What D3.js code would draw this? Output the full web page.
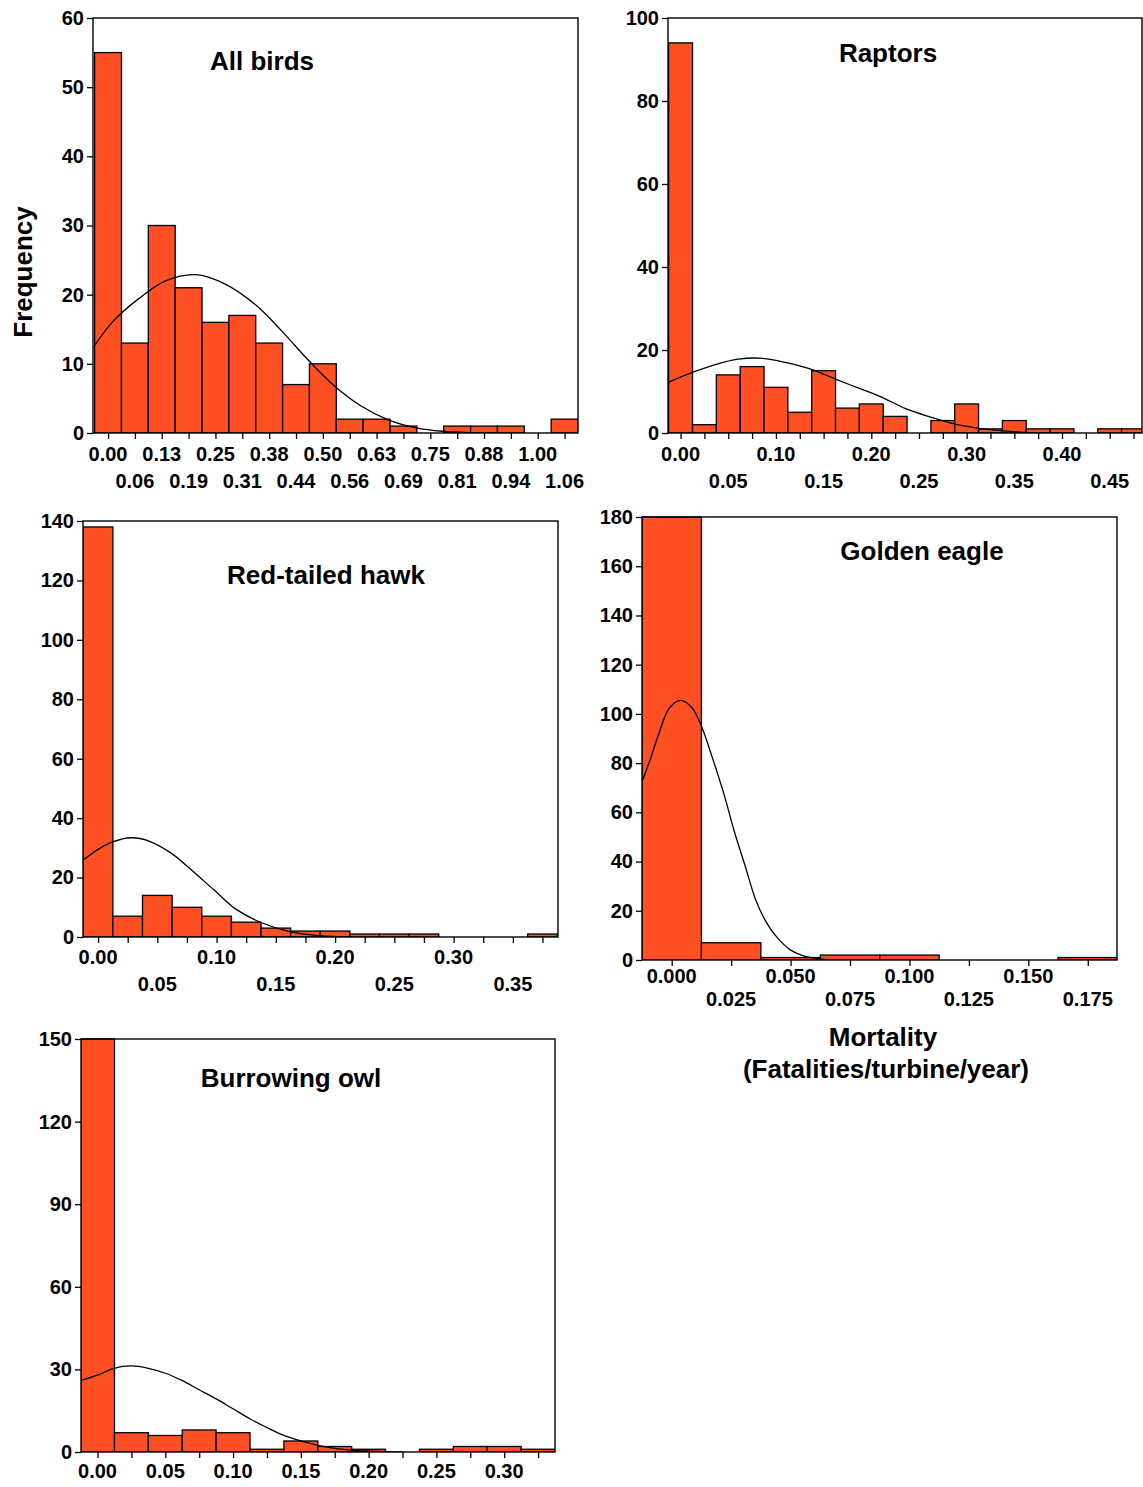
<!DOCTYPE html>
<html>
<head>
<meta charset="utf-8">
<script src="https://cdn.jsdelivr.net/npm/d3@7"></script>
<style>
  body { margin: 0; background: #fff; }
  svg text { font-family: "Liberation Sans", Arial, Helvetica, sans-serif; font-weight: bold; fill: #000; }
</style>
</head>
<body>
<svg id="chart" width="1143" height="1487"></svg>
<script>
// ---------------- DATA ----------------
// All birds
const allBirdsBins = [0, 0.0625, 0.125, 0.1875, 0.25, 0.3125, 0.375, 0.4375, 0.5, 0.5625, 0.625, 0.6875, 0.75, 0.8125, 0.875, 0.9375, 1.0, 1.0625];
const allBirdsBinWidth = 0.0625;
const allBirdsCounts = [55, 13, 30, 21, 16, 17, 13, 7, 10, 2, 2, 1, 0, 1, 1, 1, 0, 2];
const allBirdsXLabels = ["0.00", "0.06", "0.13", "0.19", "0.25", "0.31", "0.38", "0.44", "0.50", "0.56", "0.63", "0.69", "0.75", "0.81", "0.88", "0.94", "1.00", "1.06"];
const allBirdsYTicks = [0, 10, 20, 30, 40, 50, 60];
const allBirdsCurveX = [-0.034, 0.011, 0.073, 0.134, 0.204, 0.274, 0.344, 0.405, 0.468, 0.527, 0.589, 0.652, 0.717, 0.778, 0.842, 0.90];
const allBirdsCurveY = [12.4, 16.1, 19.5, 22.0, 22.9, 21.5, 18.5, 14.7, 10.4, 6.8, 3.9, 1.9, 0.75, 0.25, 0.05, 0];

// Raptors
const raptorsBins = [0, 0.025, 0.05, 0.075, 0.1, 0.125, 0.15, 0.175, 0.2, 0.225, 0.25, 0.275, 0.3, 0.325, 0.35, 0.375, 0.4, 0.425, 0.45, 0.475];
const raptorsBinWidth = 0.025;
const raptorsCounts = [94, 2, 14, 16, 11, 5, 15, 6, 7, 4, 0, 3, 7, 1, 3, 1, 1, 0, 1, 1];
const raptorsXLabels = ["0.00", "0.05", "0.10", "0.15", "0.20", "0.25", "0.30", "0.35", "0.40", "0.45"];
const raptorsYTicks = [0, 20, 40, 60, 80, 100];
const raptorsCurveX = [-0.0132, 0.0123, 0.0363, 0.0603, 0.0862, 0.112, 0.1365, 0.1624, 0.1868, 0.2113, 0.2368, 0.2612, 0.286, 0.3107, 0.336, 0.361, 0.386, 0.41];
const raptorsCurveY = [12.2, 14.6, 16.5, 17.8, 18.0, 16.9, 15.4, 13.0, 10.8, 8.6, 5.8, 3.9, 2.25, 1.2, 0.56, 0.16, 0.02, 0];

// Red-tailed hawk
const hawkBins = [0, 0.025, 0.05, 0.075, 0.1, 0.125, 0.15, 0.175, 0.2, 0.225, 0.25, 0.275, 0.3, 0.325, 0.35, 0.375];
const hawkBinWidth = 0.025;
const hawkCounts = [138, 7, 14, 10, 7, 5, 3, 2, 2, 1, 1, 1, 0, 0, 0, 1];
const hawkXLabels = ["0.00", "0.05", "0.10", "0.15", "0.20", "0.25", "0.30", "0.35"];
const hawkYTicks = [0, 20, 40, 60, 80, 100, 120, 140];
const hawkCurveX = [-0.0128, 0, 0.0123, 0.0277, 0.043, 0.0614, 0.0798, 0.0982, 0.1166, 0.138, 0.1626, 0.187, 0.212];
const hawkCurveY = [25.8, 29.5, 32.0, 33.4, 32.3, 28.3, 22.2, 15.7, 9.3, 4.8, 1.7, 0.45, 0];

// Golden eagle
const eagleBins = [0, 0.025, 0.05, 0.075, 0.1, 0.125, 0.15, 0.175];
const eagleBinWidth = 0.025;
const eagleCounts = [180, 7, 1, 2, 2, 0, 0, 1];
const eagleXLabels = ["0.000", "0.025", "0.050", "0.075", "0.100", "0.125", "0.150", "0.175"];
const eagleYTicks = [0, 20, 40, 60, 80, 100, 120, 140, 160, 180];
const eagleCurveX = [-0.01245, -0.0092, -0.0055, -0.001, 0.0039, 0.0086, 0.0126, 0.0175, 0.022, 0.0264, 0.0309, 0.0353, 0.0398, 0.0443, 0.0499, 0.0561, 0.0625, 0.067];
const eagleCurveY = [72.6, 81, 91.7, 102.4, 105.5, 102.4, 94.8, 81, 67.3, 52, 38.2, 24.5, 15.3, 9.2, 4.1, 1.5, 0.5, 0];

// Burrowing owl
const owlBins = [0, 0.025, 0.05, 0.075, 0.1, 0.125, 0.15, 0.175, 0.2, 0.225, 0.25, 0.275, 0.3, 0.325];
const owlBinWidth = 0.025;
const owlCounts = [150, 7, 6, 8, 7, 1, 4, 2, 1, 0, 1, 2, 2, 1];
const owlXLabels = ["0.00", "0.05", "0.10", "0.15", "0.20", "0.25", "0.30"];
const owlYTicks = [0, 30, 60, 90, 120, 150];
const owlCurveX = [-0.0123, 0.0005, 0.0121, 0.0247, 0.0375, 0.0501, 0.0622, 0.075, 0.0879, 0.1002, 0.1126, 0.1252, 0.1375, 0.150, 0.1627, 0.175, 0.1877, 0.2, 0.2126, 0.225];
const owlCurveY = [26.0, 28.0, 30.4, 31.25, 30.4, 28.6, 26.0, 22.6, 19.2, 15.6, 12.0, 8.8, 6.0, 4.0, 2.4, 1.3, 0.7, 0.36, 0.12, 0];

const panelTitles = ["All birds", "Raptors", "Red-tailed hawk", "Golden eagle", "Burrowing owl"];
const yAxisTitle = "Frequency";
const xAxisTitleLines = ["Mortality", "(Fatalities/turbine/year)"];

// ---------------- LAYOUT ----------------
const layouts = [
  { left: 93, top: 18, right: 578, bottom: 433, xDomain: [-0.035, 1.09375], yMax: 60, titleX: 262, titleY: 70, row1: 28, row2: 55, labelsAtBins: true },
  { left: 668, top: 18, right: 1142, bottom: 433, xDomain: [-0.0132, 0.4839], yMax: 100, titleX: 888, titleY: 62, row1: 28, row2: 55 },
  { left: 83, top: 521, right: 558, bottom: 937, xDomain: [-0.0127, 0.3881], yMax: 140, titleX: 326, titleY: 584, row1: 27, row2: 54 },
  { left: 642, top: 517, right: 1117, bottom: 960, xDomain: [-0.0125, 0.1873], yMax: 180, titleX: 922, titleY: 560, row1: 23, row2: 46 },
  { left: 81, top: 1039, right: 555, bottom: 1452, xDomain: [-0.0122, 0.3375], yMax: 150, titleX: 291, titleY: 1087, row1: 26, row2: null }
];

const panels = [
  { bins: allBirdsBins, bw: allBirdsBinWidth, counts: allBirdsCounts, labels: allBirdsXLabels, yTicks: allBirdsYTicks, cx: allBirdsCurveX, cy: allBirdsCurveY },
  { bins: raptorsBins, bw: raptorsBinWidth, counts: raptorsCounts, labels: raptorsXLabels, yTicks: raptorsYTicks, cx: raptorsCurveX, cy: raptorsCurveY },
  { bins: hawkBins, bw: hawkBinWidth, counts: hawkCounts, labels: hawkXLabels, yTicks: hawkYTicks, cx: hawkCurveX, cy: hawkCurveY },
  { bins: eagleBins, bw: eagleBinWidth, counts: eagleCounts, labels: eagleXLabels, yTicks: eagleYTicks, cx: eagleCurveX, cy: eagleCurveY },
  { bins: owlBins, bw: owlBinWidth, counts: owlCounts, labels: owlXLabels, yTicks: owlYTicks, cx: owlCurveX, cy: owlCurveY }
];

const BAR_FILL = "#FF5024";
const svg = d3.select("#chart");
const defs = svg.append("defs");

panels.forEach((p, i) => {
  const L = layouts[i];
  const x = d3.scaleLinear().domain(L.xDomain).range([L.left, L.right]);
  const y = d3.scaleLinear().domain([0, L.yMax]).range([L.bottom, L.top]);
  const g = svg.append("g");

  defs.append("clipPath").attr("id", "clip" + i)
    .append("rect").attr("x", L.left).attr("y", L.top - 1)
    .attr("width", L.right - L.left).attr("height", L.bottom - L.top + 1);

  const barData = p.bins.map((b, k) => ({ b, c: p.counts[k] })).filter(d => d.c > 0);
  g.append("g").attr("clip-path", `url(#clip${i})`)
    .selectAll("rect").data(barData).join("rect")
    .attr("x", d => x(d.b - p.bw / 2))
    .attr("width", d => x(d.b + p.bw / 2) - x(d.b - p.bw / 2))
    .attr("y", d => y(d.c))
    .attr("height", d => y(0) - y(d.c))
    .attr("fill", BAR_FILL)
    .attr("stroke", "#000")
    .attr("stroke-width", 1.3);

  // fitted curve
  const pts = p.cx.map((v, k) => [v, p.cy[k]]);
  g.append("path").attr("clip-path", `url(#clip${i})`)
    .datum(pts)
    .attr("d", d3.line().x(d => x(d[0])).y(d => y(d[1])).curve(d3.curveCatmullRom.alpha(0.5)))
    .attr("fill", "none").attr("stroke", "#000").attr("stroke-width", 1.3);

  // frame
  g.append("rect").attr("x", L.left).attr("y", L.top)
    .attr("width", L.right - L.left).attr("height", L.bottom - L.top)
    .attr("fill", "none").attr("stroke", "#000").attr("stroke-width", 1.4);

  // y axis
  const ya = g.append("g").attr("transform", `translate(${L.left},0)`)
    .call(d3.axisLeft(y).tickValues(p.yTicks).tickFormat(d3.format("d")).tickSize(6).tickPadding(3));
  ya.select(".domain").remove();
  ya.selectAll("line").attr("stroke", "#000").attr("stroke-width", 1.3);
  ya.selectAll("text").attr("font-size", 20).style("font-family", '"Liberation Sans", Arial, sans-serif').style("font-weight", "bold");

  // x axis tick marks
  const xa = g.append("g").attr("transform", `translate(0,${L.bottom})`)
    .call(d3.axisBottom(x).tickValues(p.bins).tickFormat(() => "").tickSize(6));
  xa.select(".domain").remove();
  xa.selectAll("line").attr("stroke", "#000").attr("stroke-width", 1.3);

  // x labels
  const labelPos = L.labelsAtBins ? p.bins : p.labels.map(s => +s);
  g.selectAll("text.xl").data(p.labels).join("text")
    .attr("class", "xl")
    .attr("x", (d, k) => x(labelPos[k]))
    .attr("y", (d, k) => L.bottom + ((L.row2 !== null && k % 2 === 1) ? L.row2 : L.row1))
    .attr("text-anchor", "middle")
    .attr("font-size", 20)
    .text(d => d);

  // title
  g.append("text").attr("x", L.titleX).attr("y", L.titleY)
    .attr("text-anchor", "middle").attr("font-size", 26).text(panelTitles[i]);
});

// axis titles
svg.append("text").attr("transform", "translate(32,272) rotate(-90)")
  .attr("text-anchor", "middle").attr("font-size", 26).text(yAxisTitle);
svg.append("text").attr("x", 883).attr("y", 1046)
  .attr("text-anchor", "middle").attr("font-size", 26).text(xAxisTitleLines[0]);
svg.append("text").attr("x", 886).attr("y", 1078)
  .attr("text-anchor", "middle").attr("font-size", 26).text(xAxisTitleLines[1]);
</script>
</body>
</html>
